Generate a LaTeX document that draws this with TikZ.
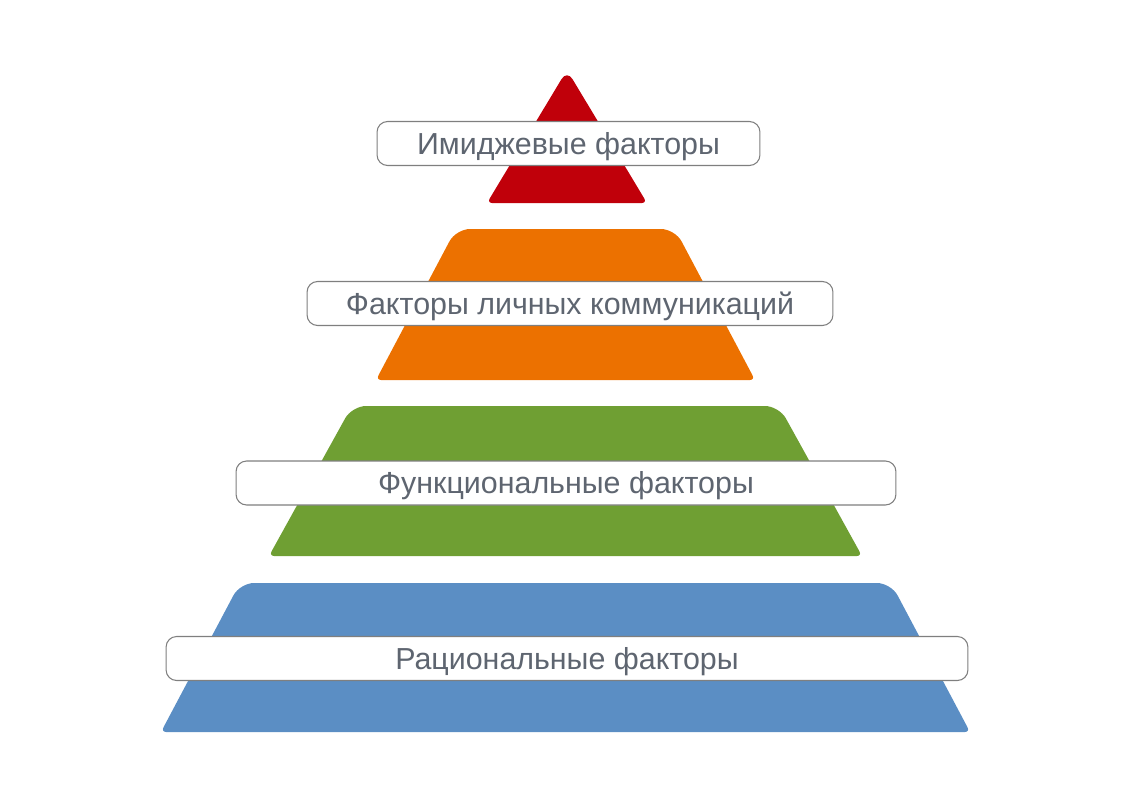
\documentclass[tikz,border=0pt]{standalone}
\usepackage{fontspec}
\setmainfont{Liberation Sans}
\usetikzlibrary{positioning}
\definecolor{topred}{HTML}{C0000A}
\definecolor{layerorange}{HTML}{EC7100}
\definecolor{layergreen}{HTML}{6F9F33}
\definecolor{layerblue}{HTML}{5B8EC4}
\definecolor{tagtext}{HTML}{5E6570}
\definecolor{tagborder}{HTML}{7F7F7F}

\begin{document}
\begin{tikzpicture}[
    x=0.02cm, y=-0.02cm,
    tag/.style={rectangle, rounded corners=6pt, draw=tagborder, fill=white, line width=0.6pt, minimum height=0.88cm, inner sep=0pt, text=tagtext, text height=12.4pt, text depth=0pt, font=\fontsize{17.3}{20}\selectfont},
    low/.style={rounded corners=3pt},
    high/.style={rounded corners=8pt}
]
\useasboundingbox (0,0) rectangle (1137,785);

% Layers of the pyramid
\fill[topred, low] (487,203) -- (647,203) [rounded corners=6pt] -- (567,70) [low] -- cycle;
\fill[layerorange, low] (376,380) -- (755,380) [high] -- (675,229) -- (456,229) [low] -- cycle;
\fill[layergreen, low] (269,556) -- (862,556) [high] -- (779,406) -- (352,406) [low] -- cycle;
\fill[layerblue, low] (161,732) -- (970,732) [high] -- (891,583) -- (240,583) [low] -- cycle;

% Labels
\node[tag, minimum width=7.66cm] (image) at (568.5,143.5) {Имиджевые факторы};
\node[tag, minimum width=10.52cm] (comm) at (570,303.5) {Факторы личных коммуникаций};
\node[tag, minimum width=13.2cm] (func) at (566,483) {Функциональные факторы};
\node[tag, minimum width=16.04cm] (rational) at (567,658.5) {Рациональные факторы};

\end{tikzpicture}
\end{document}
